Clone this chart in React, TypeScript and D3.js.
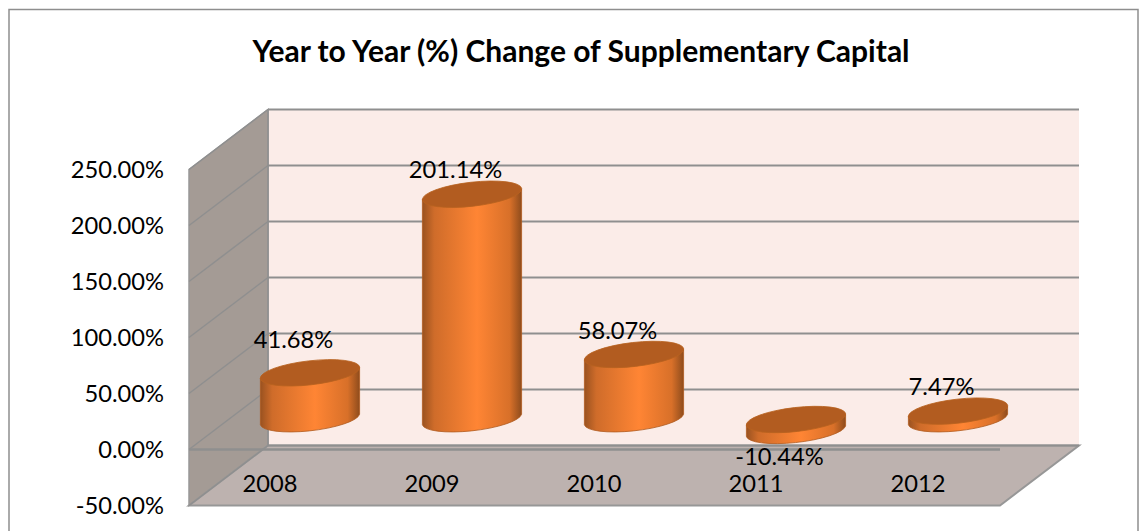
import React from "react";
import * as d3 from "d3";

const title = "Year to Year (%) Change of Supplementary Capital";
const years = ["2008", "2009", "2010", "2011", "2012"];
const changes = [41.68, 201.14, 58.07, -10.44, 7.47];
const valueLabels = ["41.68%", "201.14%", "58.07%", "-10.44%", "7.47%"];
const ticks = [-50, 0, 50, 100, 150, 200, 250];
const labelDy = [-33, -24, -23, 26, -24];

const W = 1148, H = 531;
const frontY = d3.scaleLinear().domain([-50, 250]).range([505.5, 169.5]);
const DX = 79, DY = -60;
const frontL = 189, frontR = 1000;
const x = d3.scalePoint<string>().domain(years).range([310, 958]);
const midY = (v: number) => frontY(v) + DY / 2;
const FONT = "Lato, 'Open Sans', sans-serif";
const RX = 50, RY = 12, ROT = -6.5, TX = 49.6, TY = 5.2;
const GRID = "#8f8f8f";

function Cylinder({ cx, v }: { cx: number; v: number }) {
  const top = midY(Math.max(v, 0));
  const bot = midY(Math.min(v, 0));
  const body = `M${cx - TX},${top + TY}L${cx - TX},${bot + TY}A${RX},${RY} ${ROT} 0 0 ${cx + TX},${bot - TY}L${cx + TX},${top - TY}Z`;
  return (
    <g>
      <path d={body} fill="url(#cyl)" stroke="#b05a1e" strokeWidth={0.8} />
      <ellipse cx={cx} cy={top} rx={RX} ry={RY} transform={`rotate(${ROT} ${cx} ${top})`} fill="#b25c20" stroke="#b8621f" strokeWidth={0.8} />
    </g>
  );
}

export default function App() {
  const y0 = frontY(-50), yTop = frontY(250);
  return (
    <svg width={W} height={H} style={{ position: "absolute", left: 0, top: 0, display: "block", background: "#fff" }}>
      <defs>
        <linearGradient id="cyl" x1="0" x2="1" y1="0" y2="0">
          <stop offset="0" stopColor="#9a5220" />
          <stop offset="0.12" stopColor="#cf6c2a" />
          <stop offset="0.55" stopColor="#ff8534" />
          <stop offset="0.88" stopColor="#d87029" />
          <stop offset="1" stopColor="#8f4c1c" />
        </linearGradient>
      </defs>
      <rect x={9} y={9.5} width={1129} height={H + 10} fill="#fff" stroke="#8e8e8e" strokeWidth={1.5} />
      <text x={581} y={62} textAnchor="middle" fontFamily={FONT} fontWeight={700} fontSize={30} fill="#000">{title}</text>

      {/* back wall */}
      <rect x={frontL + DX} y={yTop + DY} width={frontR - frontL} height={y0 - yTop} fill="#fbece8" />
      {/* side wall */}
      <polygon points={`${frontL},${yTop} ${frontL + DX},${yTop + DY} ${frontL + DX},${y0 + DY} ${frontL},${y0}`} fill="#a49b95" stroke="#989898" strokeWidth={1.5} />
      {/* floor */}
      <polygon points={`${frontL},${y0} ${frontL + DX},${y0 + DY} ${frontR + DX},${y0 + DY} ${frontR},${y0}`} fill="#bdb2af" stroke="#979797" strokeWidth={2} />
      {ticks.map((t) => (
        <g key={t}>
          <line x1={frontL} y1={frontY(t)} x2={frontL + DX} y2={frontY(t) + DY} stroke={GRID} strokeWidth={1.5} />
          <line x1={frontL + DX} y1={frontY(t) + DY} x2={frontR + DX} y2={frontY(t) + DY} stroke={GRID} strokeWidth={2} />
          <text x={164} y={frontY(t) + 8} textAnchor="end" fontFamily={FONT} fontSize={23.7} fill="#000">
            {`${t.toFixed(2)}%`}
          </text>
        </g>
      ))}
      <line x1={frontL} y1={frontY(0)} x2={frontR} y2={frontY(0)} stroke="#8f8f8f" strokeWidth={2.5} />
      <line x1={frontL + DX} y1={frontY(250) + DY} x2={frontL + DX} y2={y0 + DY} stroke={GRID} strokeWidth={1.5} />

      {years.map((yr, i) => (
        <Cylinder key={yr} cx={x(yr)!} v={changes[i]} />
      ))}
      {years.map((yr) => (
        <text key={yr} x={x(yr)! - 40} y={492} textAnchor="middle" fontFamily={FONT} fontSize={23.7} fill="#000">{yr}</text>
      ))}
      {years.map((yr, i) => (
        <text key={yr} x={x(yr)! - 16.5} y={midY(changes[i]) + labelDy[i] + 8} textAnchor="middle" fontFamily={FONT} fontSize={23.7} fill="#000">
          {valueLabels[i]}
        </text>
      ))}
    </svg>
  );
}
